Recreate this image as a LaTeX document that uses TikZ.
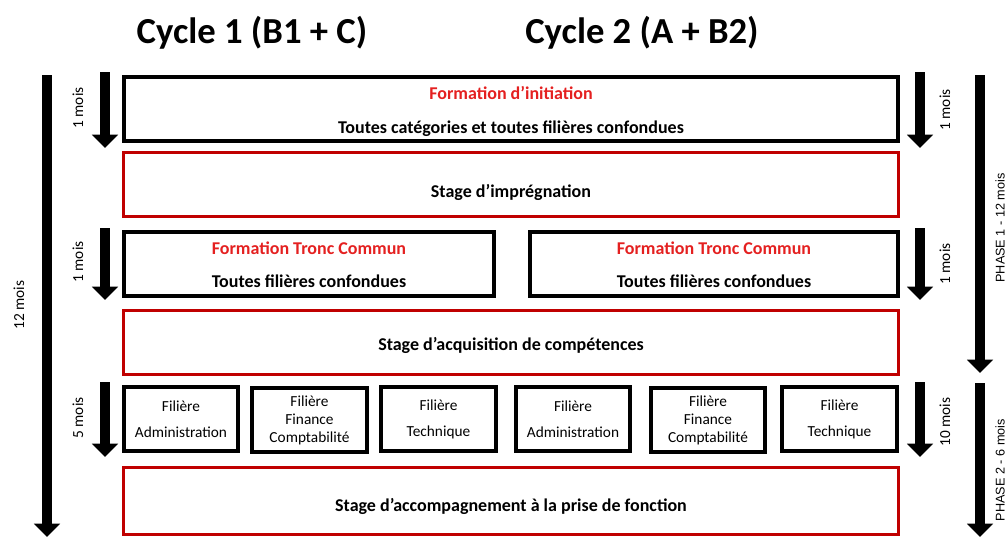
\documentclass[tikz,border=0pt]{standalone}
\usepackage{fontspec}
\setmainfont{Carlito}
\newfontfamily\arialf{Liberation Sans}
\usetikzlibrary{arrows.meta}
\definecolor{boxred}{RGB}{192,0,0}
\definecolor{txtred}{RGB}{228,32,32}
\begin{document}
\begin{tikzpicture}[x=0.75pt,y=-0.75pt,
  blackbox/.style={draw=black,line width=3pt,minimum height=48pt,inner sep=0},
  redbox/.style={draw=boxred,line width=2.4pt,minimum height=48pt,inner sep=0},
  filbox/.style={draw=black,line width=3pt,minimum width=86pt,minimum height=48pt,inner sep=0,align=center,font=\fontsize{11.5}{14.5}\selectfont},
  ttl/.style={font=\bfseries\fontsize{27.5}{32}\selectfont},
  bld/.style={anchor=base,inner sep=0,font=\bfseries\fontsize{13.5}{16}\selectfont},
  redt/.style={bld,text=txtred},
  durarrow/.style={line width=7.5pt,-{Triangle[width=19pt,length=10pt]}},
  mlbl/.style={rotate=90,font=\fontsize{11.5}{13}\selectfont},
  plbl/.style={rotate=90,font=\arialf\fontsize{9.5}{12}\selectfont}]
\useasboundingbox (0,0) rectangle (1008,537);
% titles
\node[ttl] (t1) at (252,33) {Cycle 1 (B1 + C)};
\node[ttl] (t2) at (642,33) {Cycle 2 (A + B2)};
% boxes
\node[blackbox,minimum width=581pt] (b1) at (511,108.5) {};
\node[redbox,minimum width=581pt] (b2) at (511,184.5) {};
\node[blackbox,minimum width=278pt] (b3a) at (309,263.5) {};
\node[blackbox,minimum width=276pt] (b3b) at (714,263.5) {};
\node[redbox,minimum width=581pt] (b4) at (511,342.5) {};
\node[redbox,minimum width=581pt,minimum height=50pt] (b6) at (511,501) {};
% box texts
\node[redt] (b1r) at (511,99) {Formation d’initiation};
\node[bld] (b1k) at (511,133) {Toutes catégories et toutes filières confondues};
\node[bld] (b2k) at (511,197) {Stage d’imprégnation};
\node[redt] (b3ar) at (309,254) {Formation Tronc Commun};
\node[bld] (b3ak) at (309,287) {Toutes filières confondues};
\node[redt] (b3br) at (714,254) {Formation Tronc Commun};
\node[bld] (b3bk) at (714,287) {Toutes filières confondues};
\node[bld] (b4k) at (511,350) {Stage d’acquisition de compétences};
\node[bld] (b6k) at (511,511) {Stage d’accompagnement à la prise de fonction};
% filieres
\node[filbox] (f1) at (181,419) {Filière\\[5pt]Administration};
\node[filbox] (f2) at (309.5,420) {Filière\\[-1pt]Finance\\[-1pt]Comptabilité};
\node[filbox] (f3) at (438.5,419) {Filière\\[5pt]Technique};
\node[filbox] (f4) at (573,419) {Filière\\[5pt]Administration};
\node[filbox] (f5) at (708,420) {Filière\\[-1pt]Finance\\[-1pt]Comptabilité};
\node[filbox] (f6) at (839.5,419) {Filière\\[5pt]Technique};
% arrow end points
\coordinate (l1s) at (105,72);  \coordinate (l1e) at (105,148);
\coordinate (l2s) at (105,228); \coordinate (l2e) at (105,300);
\coordinate (l3s) at (105,382); \coordinate (l3e) at (105,457);
\coordinate (r1s) at (920,72);  \coordinate (r1e) at (920,148);
\coordinate (r2s) at (920,228); \coordinate (r2e) at (920,300);
\coordinate (r3s) at (920,382); \coordinate (r3e) at (920,457);
\coordinate (lls) at (47,75);   \coordinate (lle) at (47,537);
\coordinate (p1s) at (980,75);  \coordinate (p1e) at (980,373);
\coordinate (p2s) at (980,383); \coordinate (p2e) at (980,537);
% arrows
\foreach \a in {l1,l2,l3,r1,r2,r3,ll,p1,p2}
  \draw[durarrow] (\a s) -- (\a e);
% labels
\node[mlbl] (m1) at (78,108) {1 mois};
\node[mlbl] (m2) at (78,262) {1 mois};
\node[mlbl] (m3) at (78,418) {5 mois};
\node[mlbl] (m4) at (19,305) {12 mois};
\node[mlbl] (m5) at (945,110) {1 mois};
\node[mlbl] (m6) at (945,264) {1 mois};
\node[mlbl] (m7) at (945,422) {10 mois};
\node[plbl] (ph1) at (1000,228) {PHASE 1 - 12 mois};
\node[plbl] (ph2) at (1000,470) {PHASE 2 - 6 mois};
\end{tikzpicture}
\end{document}
